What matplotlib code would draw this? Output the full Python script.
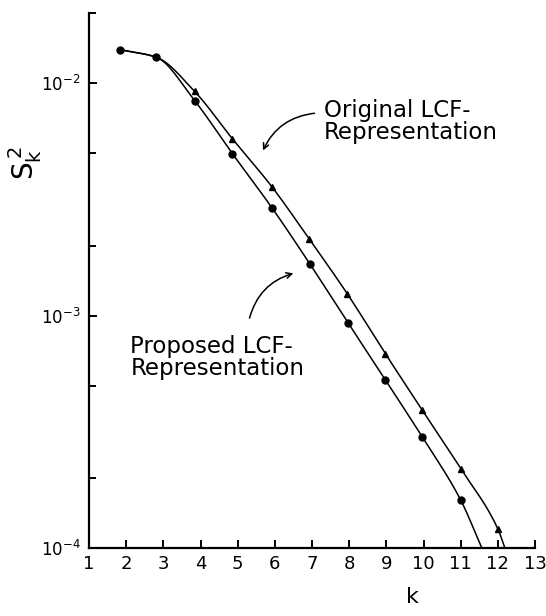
import numpy as np
import matplotlib
matplotlib.use('Agg')
import matplotlib.pyplot as plt
import matplotlib.ticker as ticker

# values (log scale)
k_prop = [1.84, 2.81, 3.84, 4.86, 5.92, 6.95, 7.97, 8.97, 9.97, 11.0]
s_prop = [1.39e-2, 1.29e-2, 8.4e-3, 4.96e-3, 2.91e-3, 1.66e-3, 9.3e-4, 5.3e-4, 3.0e-4, 1.61e-4]
k_orig = [3.84, 4.86, 5.92, 6.92, 7.95, 8.97, 9.97, 11.0, 12.0]
s_orig = [9.2e-3, 5.75e-3, 3.58e-3, 2.14e-3, 1.24e-3, 6.87e-4, 3.91e-4, 2.2e-4, 1.21e-4]
# where the drawn curves meet the bottom axis
k_prop_end = 11.57
k_orig_end = 12.19
s_floor = 1e-4

x_ticks = list(range(1, 14))


def smooth(xs, ys, n=400):
    """monotone cubic (pchip) through the points, done in log10(y)"""
    x = np.asarray(xs, float)
    y = np.log10(np.asarray(ys, float))
    h = np.diff(x)
    d = np.diff(y) / h
    m = np.zeros_like(x)
    for i in range(1, len(x) - 1):
        if d[i - 1] * d[i] > 0:
            w1 = 2 * h[i] + h[i - 1]
            w2 = h[i] + 2 * h[i - 1]
            m[i] = (w1 + w2) / (w1 / d[i - 1] + w2 / d[i])
    m[0] = d[0]
    m[-1] = d[-1]
    xx = np.linspace(x[0], x[-1], n)
    idx = np.clip(np.searchsorted(x, xx) - 1, 0, len(x) - 2)
    t = (xx - x[idx]) / h[idx]
    h00 = 2 * t**3 - 3 * t**2 + 1
    h10 = t**3 - 2 * t**2 + t
    h01 = -2 * t**3 + 3 * t**2
    h11 = t**3 - t**2
    yy = h00 * y[idx] + h10 * h[idx] * m[idx] + h01 * y[idx + 1] + h11 * h[idx] * m[idx + 1]
    return xx, 10 ** yy


fig = plt.figure(figsize=(5.46, 6.16), dpi=100)
ax = fig.add_axes([0.163, 0.110, 0.817, 0.869])

# curves
cx, cy = smooth(k_prop + [k_prop_end], s_prop + [s_floor])
ax.plot(cx, cy, color='black', lw=1.1)
cx, cy = smooth(k_prop[:2] + k_orig + [k_orig_end], s_prop[:2] + s_orig + [s_floor])
ax.plot(cx, cy, color='black', lw=1.1)

# markers
ax.plot(k_prop, s_prop, 'o', color='black', ms=5, clip_on=False)
ax.plot(k_orig, s_orig, '^', color='black', ms=5, clip_on=False)

ax.set_yscale('log')
ax.set_xlim(1, 13)
ax.set_ylim(1e-4, 2e-2)

for sp in ['top', 'right']:
    ax.spines[sp].set_visible(False)
for sp in ['left', 'bottom']:
    ax.spines[sp].set_linewidth(1.6)

ax.set_xticks(x_ticks)
ax.set_xticklabels([str(v) for v in x_ticks])
ax.yaxis.set_major_locator(ticker.LogLocator(base=10, numticks=10))
ax.yaxis.set_minor_locator(ticker.LogLocator(base=10, subs=(2.0, 5.0), numticks=10))
ax.yaxis.set_minor_formatter(ticker.NullFormatter())
ax.yaxis.set_major_formatter(ticker.FuncFormatter(
    lambda v, p: r'$\mathregular{10^{%d}}$' % int(round(np.log10(v)))))

ax.tick_params(axis='both', which='both', direction='in', width=1.4, color='black')
ax.tick_params(axis='x', which='major', length=6, pad=5, labelsize=13)
ax.tick_params(axis='y', which='major', length=6, pad=6, labelsize=12)
ax.tick_params(axis='y', which='minor', length=5)

# axis labels
fig.text(0.045, 0.735, r'$\mathregular{S_k^{\,2}}$', rotation=90, fontsize=20,
         ha='center', va='center')
fig.text(0.755, 0.015, 'k', fontsize=16, ha='center', va='bottom')

# annotations
ax.text(7.32, 6.8e-3, 'Original LCF-\nRepresentation', fontsize=16.5,
        ha='left', va='center', linespacing=0.95)
ax.annotate('', xy=(5.65, 5.0e-3), xytext=(7.14, 7.43e-3),
            arrowprops=dict(arrowstyle='->', color='black', lw=1.1,
                            connectionstyle='arc3,rad=0.3'))
ax.text(2.11, 6.6e-4, 'Proposed LCF-\nRepresentation', fontsize=16.5,
        ha='left', va='center', linespacing=0.95)
ax.annotate('', xy=(6.57, 1.53e-3), xytext=(5.30, 9.5e-4),
            arrowprops=dict(arrowstyle='->', color='black', lw=1.1,
                            connectionstyle='arc3,rad=-0.3'))

fig.savefig('out.png', dpi=100)
